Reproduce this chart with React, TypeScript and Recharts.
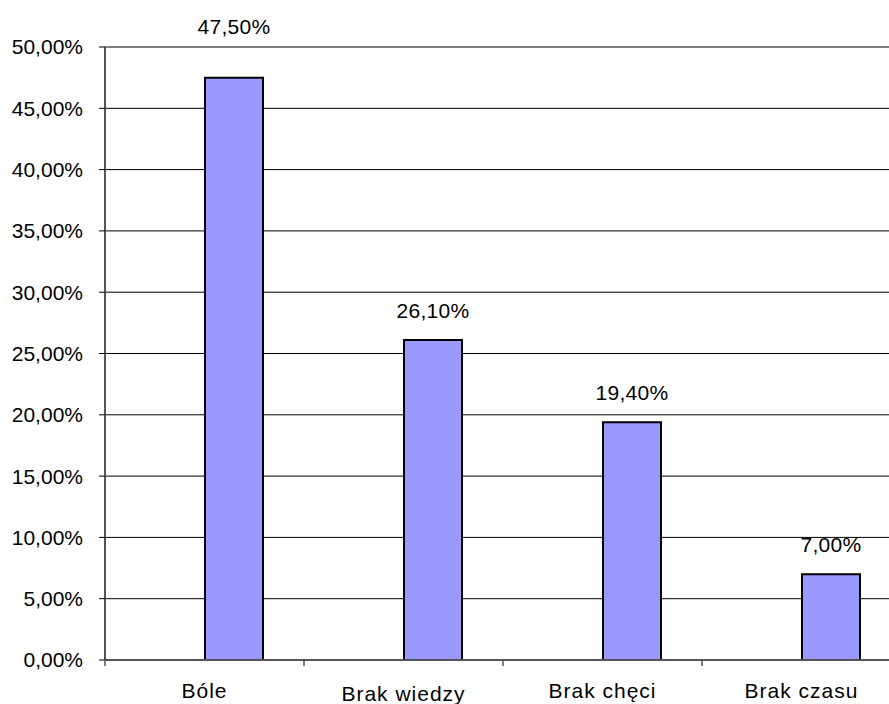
import React from "react";
import { BarChart, Bar, XAxis, YAxis, CartesianGrid, LabelList } from "recharts";

const categories = ["Bóle", "Brak wiedzy", "Brak chęci", "Brak czasu"];
const values = [0.475, 0.261, 0.194, 0.07];
const yTicks = [0, 0.05, 0.1, 0.15, 0.2, 0.25, 0.3, 0.35, 0.4, 0.45, 0.5];

const data = categories.map((name, i) => ({ name, blank: null, value: values[i] }));

const FONT = "'Liberation Sans', Arial, sans-serif";
const fmt = (v: number) => (v * 100).toFixed(2).replace(".", ",") + "%";

const TICK_SIZE = 6;
const TICK_MARGIN = 17;

const CatTick = (props: any) => {
  const { x, y, payload, index } = props;
  const off = payload && payload.offset ? payload.offset : 0;
  const axisY = y - TICK_SIZE - TICK_MARGIN;
  const extra = index === 1 ? 3 : 0;
  return (
    <g>
      <line x1={x - off} x2={x - off} y1={axisY} y2={axisY + TICK_SIZE} stroke="#555" strokeWidth={1.5} />
      <text
        x={x}
        y={y + extra}
        dy="0.71em"
        textAnchor="middle"
        fontFamily={FONT}
        fontSize={21}
        letterSpacing={1}
        fill="#000"
      >
        {payload.value}
      </text>
    </g>
  );
};

const ValueLabel = (props: any) => {
  const { x, y, width, value, index } = props;
  if (value == null) return null;
  const offset = index === 0 ? 44 : 22;
  return (
    <text
      x={x + width / 2}
      y={y - offset}
      textAnchor="middle"
      fontFamily={FONT}
      fontSize={21}
      letterSpacing={0.3}
      fill="#000"
    >
      {fmt(value)}
    </text>
  );
};

export default function App() {
  return (
    <div style={{ position: "absolute", left: 0, top: 0, width: 889, height: 704, overflow: "hidden", background: "#fff" }}>
      <BarChart
        width={910}
        height={704}
        data={data}
        margin={{ top: 47, right: 9, left: 0, bottom: 0 }}
        barSize={58}
        barGap={0}
      >
        <CartesianGrid vertical={false} stroke="#000" strokeWidth={1} />
        <XAxis
          dataKey="name"
          height={44}
          tickLine={false}
          tickSize={TICK_SIZE}
          tickMargin={TICK_MARGIN}
          axisLine={{ stroke: "#555", strokeWidth: 2 }}
          tick={<CatTick />}
          interval={0}
        />
        <YAxis
          width={105}
          domain={[0, 0.5]}
          ticks={yTicks}
          tickFormatter={fmt}
          tickSize={6}
          tickMargin={16}
          tickLine={{ stroke: "#000" }}
          axisLine={{ stroke: "#555", strokeWidth: 2 }}
          tick={{ fontFamily: FONT, fontSize: 21, fill: "#000" }}
          interval={0}
        />
        <Bar dataKey="blank" fill="#9999ff" isAnimationActive={false} />
        <Bar dataKey="value" fill="#9999ff" stroke="#000" strokeWidth={2} isAnimationActive={false}>
          <LabelList dataKey="value" content={<ValueLabel />} />
        </Bar>
      </BarChart>
    </div>
  );
}
